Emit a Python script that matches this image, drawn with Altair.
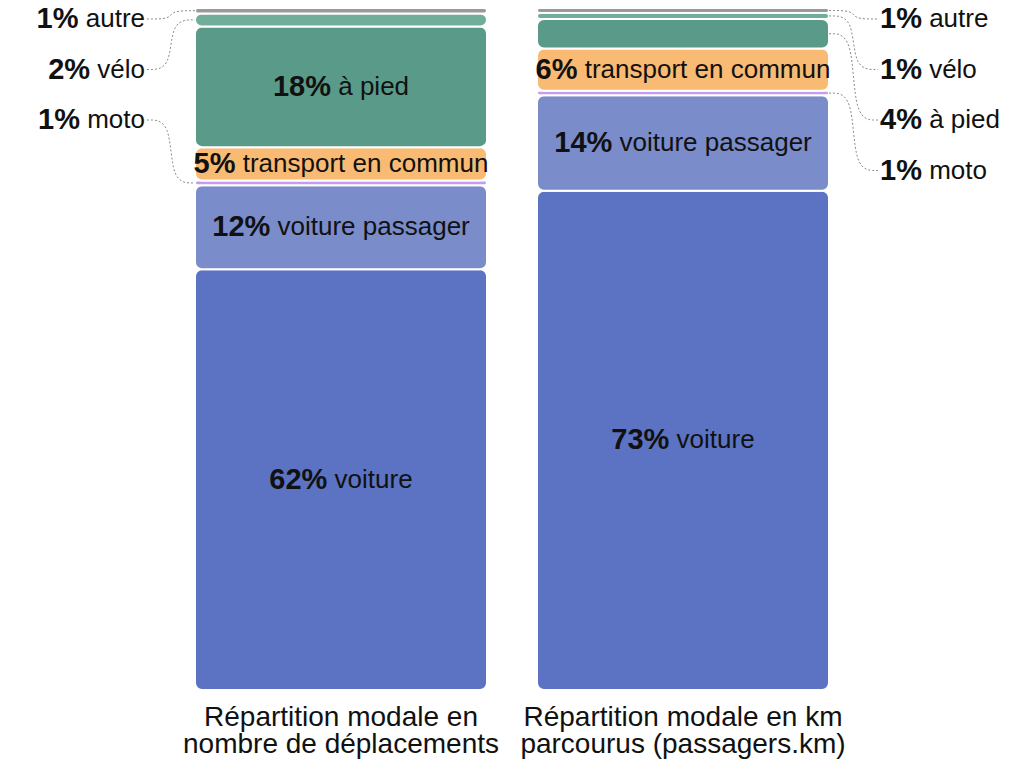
import altair as alt
import pandas as pd

# ---------------- data ----------------
PANELS = ["déplacements", "passagers.km"]
TITLES = ["Répartition modale en\nnombre de déplacements",
          "Répartition modale en km\nparcourus (passagers.km)"]
MODES = ["voiture", "voiture passager", "moto", "transport en commun",
         "à pied", "vélo", "autre"]
COLORS = ["#5b73c2", "#7a8cca", "#c49cf2", "#f9ba74", "#5a9a88", "#70ae9a", "#9a9a9a"]
SHARE_TRIPS = [61.7, 12.3, 0.7, 4.9, 17.7, 1.9, 0.8]
SHARE_KM = [73.2, 14.0, 0.65, 6.2, 4.35, 0.87, 0.73]
SHARES = [SHARE_TRIPS, SHARE_KM]

# ---------------- layout ----------------
W, H = 1008, 754
BAR_H = 682            # pixels for 100 %
CENTERS = [333, 675]
HALF = 146
LEFT_TXT_END = 137
RIGHT_TXT_START = 872
LBL_TOP_PX, LBL_STEP_PX = 11, 50.5
PCT_SIZE, NAME_SIZE, TITLE_SIZE = 29, 26, 28
FONT = "Liberation Sans"
INSIDE_MIN = 4.5

REG = {" ": 278, "a": 556, "b": 556, "c": 500, "d": 556, "e": 556, "é": 556, "à": 556,
       "g": 556, "i": 222, "l": 222, "m": 833, "n": 556, "o": 556, "p": 556, "r": 333,
       "s": 500, "t": 278, "u": 556, "v": 500}
BOLD = {"%": 889}


def w_reg(s, size):
    return sum(REG.get(c, 556) for c in s) * size / 1000


def w_bold(s, size):
    return sum(BOLD.get(c, 556) for c in s) * size / 1000


px2u = 100 / BAR_H

seg_rows, in_rows, out_rows, line_rows = [], [], [], []
for p, (panel, shares) in enumerate(zip(PANELS, SHARES)):
    xc = CENTERS[p]
    cum = 0.0
    outside = []
    for m, (mode, v) in enumerate(zip(MODES, shares)):
        y0, y1 = cum, cum + v
        cum = y1
        pct = f"{round(v)}%"
        seg_rows.append(dict(panel=panel, mode=mode, y0=y0, y1=y1,
                             x0=xc - HALF, x1=xc + HALF))
        wp = w_bold(pct, PCT_SIZE)
        wn = w_reg(mode, NAME_SIZE)
        sp = w_reg(" ", NAME_SIZE)
        ymid = (y0 + y1) / 2
        if v >= INSIDE_MIN:
            start = xc - (wp + sp + wn) / 2
            in_rows.append(dict(pct=pct, name=mode, y=ymid, xp=start, xn=start + wp + sp))
        else:
            outside.append((mode, pct, ymid, wp, wn, sp))
    # outside labels, ordered from the top
    outside = sorted(outside, key=lambda r: -r[2])
    for k, (mode, pct, ymid, wp, wn, sp) in enumerate(outside):
        ly = 100 - (LBL_TOP_PX + k * LBL_STEP_PX) * px2u
        if p == 0:
            xn = LEFT_TXT_END - wn
            xp = xn - sp - wp
            mid = (LEFT_TXT_END + 2 + xc - HALF) / 2
            pts = [(LEFT_TXT_END + 2, ly), (mid, ly), (mid, ymid), (xc - HALF, ymid)]
        else:
            xp = RIGHT_TXT_START
            xn = xp + wp + sp
            mid = (xc + HALF + RIGHT_TXT_START - 2) / 2
            pts = [(xc + HALF, ymid), (mid, ymid), (mid, ly), (RIGHT_TXT_START - 2, ly)]
        out_rows.append(dict(pct=pct, name=mode, y=ly, xp=xp, xn=xn))
        for i, (lx, lyy) in enumerate(pts):
            line_rows.append(dict(key=f"{panel}-{mode}", o=i, lx=lx, ly=lyy))

seg = pd.DataFrame(seg_rows)
ins = pd.DataFrame(in_rows)
outs = pd.DataFrame(out_rows)
lines = pd.DataFrame(line_rows)
titles = pd.DataFrame(dict(panel=PANELS, title=TITLES, xc=CENTERS))

xs = alt.Scale(domain=[0, W], range=[0, W], nice=False, zero=False)
ys = alt.Scale(domain=[0, 100], range=[BAR_H, 0], nice=False, zero=False)

bars = alt.Chart(seg).mark_bar(cornerRadius=7, stroke="white", strokeWidth=2).encode(
    x=alt.X("x0:Q", scale=xs, axis=None),
    x2="x1:Q",
    y=alt.Y("y0:Q", scale=ys, axis=None),
    y2="y1:Q",
    color=alt.Color("mode:N", scale=alt.Scale(domain=MODES, range=COLORS), legend=None),
)

txt_kw = dict(baseline="middle", align="left", font=FONT, color="#111")


def text_layers(df):
    a = alt.Chart(df).mark_text(fontSize=PCT_SIZE, fontWeight="bold", **txt_kw).encode(
        x=alt.X("xp:Q", scale=xs, axis=None), y=alt.Y("y:Q", scale=ys, axis=None), text="pct:N")
    b = alt.Chart(df).mark_text(fontSize=NAME_SIZE, **txt_kw).encode(
        x=alt.X("xn:Q", scale=xs, axis=None), y=alt.Y("y:Q", scale=ys, axis=None), text="name:N")
    return a + b


leaders = alt.Chart(lines).mark_line(interpolate="basis", strokeDash=[2, 2],
                                     strokeWidth=1, color="#8a8a8a").encode(
    x=alt.X("lx:Q", scale=xs, axis=None),
    y=alt.Y("ly:Q", scale=ys, axis=None),
    detail="key:N",
    order="o:Q",
)

title_txt = alt.Chart(titles).mark_text(fontSize=TITLE_SIZE, lineHeight=27, lineBreak="\n",
                                        align="center", baseline="middle", font=FONT,
                                        color="#111").encode(
    x=alt.X("xc:Q", scale=xs, axis=None),
    y=alt.value(BAR_H + 28),
    text="title:N",
)

chart = alt.layer(bars, leaders, text_layers(ins), text_layers(outs), title_txt).properties(
    width=W, height=H, autosize=alt.AutoSizeParams(type="none"), padding=0
).configure_view(stroke=None)

chart.save("out.html", embed_options={"renderer": "svg", "actions": False})
